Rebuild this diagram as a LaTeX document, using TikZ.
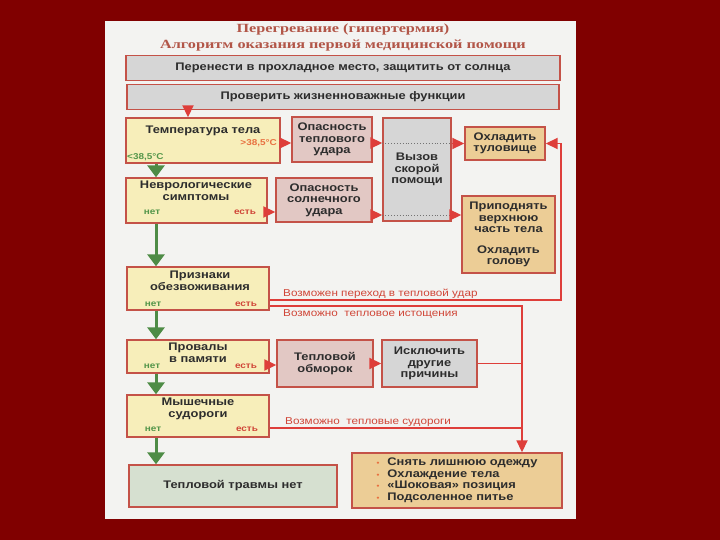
\documentclass[tikz,border=0pt]{standalone}
\usepackage{fontspec}
\setmainfont{Liberation Sans}[FakeStretch=1.17]
\newfontfamily\titlefont{Liberation Serif}[FakeStretch=1.3]
\usetikzlibrary{arrows.meta, calc}
\definecolor{slidebg}{RGB}{128,0,0}
\definecolor{paper}{RGB}{243,243,241}
\definecolor{boxline}{RGB}{196,82,72}
\definecolor{txtdark}{RGB}{45,45,45}
\definecolor{titlered}{RGB}{178,86,72}
\definecolor{softyellow}{RGB}{247,238,186}
\definecolor{softpink}{RGB}{226,200,196}
\definecolor{softgray}{RGB}{214,214,214}
\definecolor{softorange}{RGB}{236,205,150}
\definecolor{softgreen}{RGB}{214,224,208}
\definecolor{arrowred}{RGB}{222,62,58}
\definecolor{arrowgreen}{RGB}{78,140,70}
\definecolor{labelred}{RGB}{208,70,56}
\definecolor{labelgreen}{RGB}{84,150,74}
\definecolor{labelorange}{RGB}{232,112,64}
\newcommand{\carebullet}{{\color{labelorange}\fontsize{7}{7}\selectfont\textbullet}\hspace{8pt}}

\begin{document}
\begin{tikzpicture}[x=1pt, y=-1pt,
  box/.style={draw=boxline, line width=1.4pt, font=\bfseries\fontsize{11}{11.5}\selectfont, text=txtdark, align=center, inner sep=0pt},
  ybox/.style={box, fill=softyellow},
  pbox/.style={box, fill=softpink},
  gbox/.style={box, fill=softgray},
  obox/.style={box, fill=softorange},
  txt/.style={font=\bfseries\fontsize{11}{11.5}\selectfont, text=txtdark, align=center, inner sep=0pt},
  titletxt/.style={font=\titlefont\bfseries\fontsize{12.5}{14}\selectfont, text=titlered, inner sep=0pt},
  yeslbl/.style={font=\bfseries\fontsize{8.5}{10}\selectfont, text=labelred, inner sep=0pt},
  nolbl/.style={font=\bfseries\fontsize{8.5}{10}\selectfont, text=labelgreen, inner sep=0pt},
  note/.style={font=\fontsize{10}{12}\selectfont, text=labelred, anchor=west, inner sep=0pt},
  redline/.style={draw=arrowred, line width=1.8pt},
  redarr/.style={redline, -{Triangle[length=12pt,width=11pt]}},
  greenarr/.style={draw=arrowgreen, line width=3pt, -{Triangle[length=12pt,width=17pt]}}]
  \useasboundingbox (0,0) rectangle (720,540);
  \fill[slidebg] (0,0) rectangle (720,540);
  \fill[paper] (105,21) rectangle (576,519);

  \node[titletxt] (title) at (343,29) {Перегревание (гипертермия)};
  \node[titletxt] (subtitle) at (343,45.5) {Алгоритм оказания первой медицинской помощи};
  \node[gbox, minimum width=434pt, minimum height=25pt] (move) at (343,68) {Перенести в прохладное место, защитить от солнца};
  \node[gbox, minimum width=432pt, minimum height=25pt] (check) at (343,97) {Проверить жизненноважные функции};

  % main column
  \node[ybox, minimum width=154pt, minimum height=45pt] (temp) at (203,140.5) {};
  \node[ybox, minimum width=141pt, minimum height=45pt] (neuro) at (196.5,200.5) {};
  \node[ybox, minimum width=142pt, minimum height=43pt] (dehyd) at (198,288.5) {};
  \node[ybox, minimum width=142pt, minimum height=33pt] (memory) at (198,356.5) {};
  \node[ybox, minimum width=142pt, minimum height=42pt] (cramps) at (198,416) {};
  \node[box, fill=softgreen, minimum width=208pt, minimum height=42pt] (noInjury) at (233,486) {Тепловой травмы нет};

  \node[txt] (tempTxt) at (203,131) {Температура тела};
  \node[txt] (neuroTxt) at (196,191) {Неврологические\\симптомы};
  \node[txt] (dehydTxt) at (200,281) {Признаки\\обезвоживания};
  \node[txt] (memoryTxt) at (198,353) {Провалы\\в памяти};
  \node[txt] (crampsTxt) at (198,409) {Мышечные\\судороги};

  \node[nolbl, anchor=west] (tempLow) at (127,157) {<38,5°C};
  \node[yeslbl, text=labelorange, anchor=east] (tempHigh) at (277,143) {>38,5°C};
  \node[nolbl] (neuroNo) at (152,212) {нет};
  \node[yeslbl] (neuroYes) at (245,212) {есть};
  \node[nolbl] (dehydNo) at (153,304) {нет};
  \node[yeslbl] (dehydYes) at (246,304) {есть};
  \node[nolbl] (memoryNo) at (152,366) {нет};
  \node[yeslbl] (memoryYes) at (246,366) {есть};
  \node[nolbl] (crampsNo) at (153,429) {нет};
  \node[yeslbl] (crampsYes) at (247,429) {есть};

  % dangers and help
  \node[pbox, minimum width=80pt, minimum height=45pt] (dangerHeat) at (332,139.5) {Опасность\\теплового\\удара};
  \node[pbox, minimum width=96pt, minimum height=44pt] (dangerSun) at (324,200) {Опасность\\солнечного\\удара};
  \node[gbox, minimum width=68pt, minimum height=103pt] (ambulance) at (417,169.5) {Вызов\\скорой\\помощи};
  \node[obox, minimum width=80pt, minimum height=33pt] (coolBody) at (505,143.5) {Охладить\\туловище};
  \node[obox, minimum width=93pt, minimum height=77pt] (raise) at (508.5,234.5) {Приподнять\\верхнюю\\часть тела\\[9pt]Охладить\\голову};
  \node[pbox, minimum width=96pt, minimum height=47pt] (faint) at (325,363.5) {Тепловой\\обморок};
  \node[gbox, minimum width=95pt, minimum height=47pt] (exclude) at (429.5,363.5) {Исключить\\другие\\причины};
  \node[obox, align=left, minimum width=210pt, minimum height=55pt] (care) at (457,480.5) {\carebullet Снять лишнюю одежду\\\carebullet Охлаждение тела\\\carebullet «Шоковая» позиция\\\carebullet Подсоленное питье};

  \node[note] (strokeNote) at (283,294) {Возможен переход в тепловой удар};
  \node[note] (exhaustNote) at (283,314) {Возможно\ \ тепловое истощения};
  \node[note] (crampNote) at (285,422) {Возможно\ \ тепловые судороги};

  \coordinate (topX) at (188,0);
  \coordinate (mainX) at (156,0);
  \coordinate (sideX) at (561,0);
  \coordinate (careX) at (522,0);
  \coordinate (heatRow) at (0,143);
  \coordinate (neuroRow) at (0,212);
  \coordinate (sunRow) at (0,215);
  \coordinate (strokeRow) at (0,300);
  \coordinate (exhaustRow) at (0,306);
  \coordinate (memRow) at (0,365);
  \coordinate (crampRow) at (0,428);

  \draw[redarr] (topX |- check.south) -- (topX |- temp.north);
  \draw[redarr] (temp.east |- heatRow) -- (dangerHeat.west |- heatRow);
  \draw[redarr] (neuro.east |- neuroRow) -- (dangerSun.west |- neuroRow);
  \draw[redarr] (dangerHeat.east |- heatRow) -- (ambulance.west |- heatRow);
  \draw[redarr] (dangerSun.east |- sunRow) -- (ambulance.west |- sunRow);
  \draw[dotted, line width=0.9pt, black!55] (ambulance.west |- heatRow) -- (ambulance.east |- heatRow);
  \draw[dotted, line width=0.9pt, black!55] (ambulance.west |- sunRow) -- (ambulance.east |- sunRow);
  \draw[redarr] (ambulance.east |- coolBody.west) -- (coolBody.west);
  \draw[redarr] (ambulance.east |- sunRow) -- (raise.west |- sunRow);
  \draw[redarr] (dehyd.east |- strokeRow) -| (sideX |- coolBody.east) -- (coolBody.east);
  \draw[redarr] (dehyd.east |- exhaustRow) -| (careX |- care.north);
  \draw[redarr] (memory.east |- memRow) -- (faint.west |- memRow);
  \draw[redarr] (faint.east) -- (exclude.west);
  \draw[redline] (exclude.east) -- (careX |- exclude.east);
  \draw[redline] (cramps.east |- crampRow) -- (careX |- crampRow);

  % no -> next check
  \draw[greenarr] (mainX |- temp.south) -- (mainX |- neuro.north);
  \draw[greenarr] (mainX |- neuro.south) -- (mainX |- dehyd.north);
  \draw[greenarr] (mainX |- dehyd.south) -- (mainX |- memory.north);
  \draw[greenarr] (mainX |- memory.south) -- (mainX |- cramps.north);
  \draw[greenarr] (mainX |- cramps.south) -- (mainX |- noInjury.north);
\end{tikzpicture}
\end{document}
